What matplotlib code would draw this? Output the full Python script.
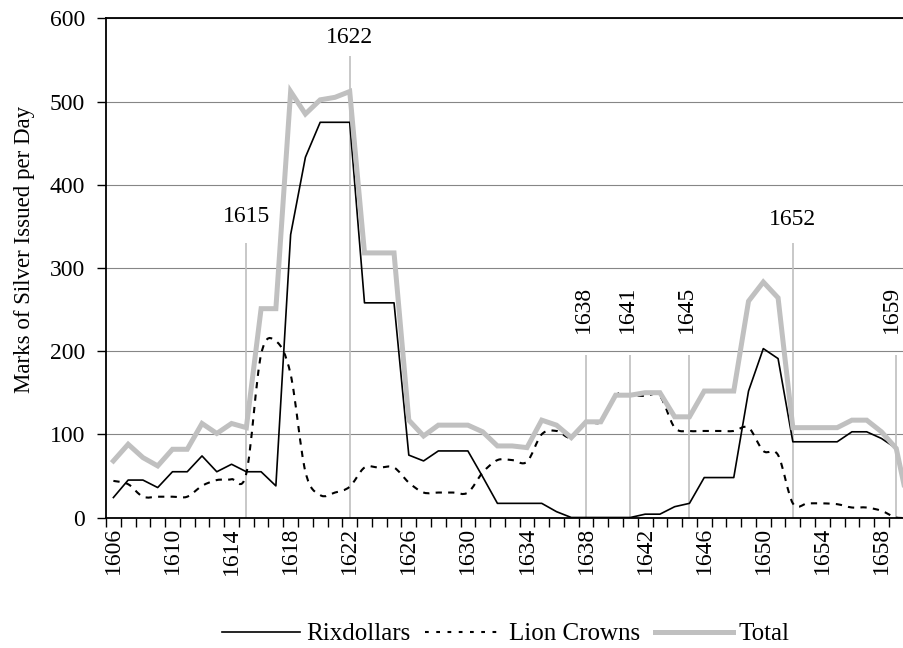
import matplotlib
matplotlib.use("Agg")
import matplotlib.pyplot as plt
import numpy as np
from matplotlib.path import Path
from matplotlib.patches import PathPatch
from matplotlib.lines import Line2D

plt.rcParams['font.family'] = ['Liberation Serif', 'DejaVu Serif']

# years on the category axis
years = list(range(1606, 1661))

rixdollars = [24, 45, 45, 36, 55, 55, 74, 55, 64, 55,
              55, 38, 340, 433, 475, 475, 475, 258, 258, 258,
              75, 68, 80, 80, 80, 49, 17, 17, 17, 17,
              7, 0, 0, 0, 0, 0, 4, 4, 13, 17,
              48, 48, 48, 152, 203, 191, 91, 91, 91, 91,
              103, 103, 95, 83, 0]

lion_crowns = [44, 40, 25, 25, 25, 25, 38, 45, 46, 53,
               196, 212, 172, 55, 27, 30, 37, 60, 60, 60,
               42, 30, 30, 30, 30, 54, 69, 69, 67, 100,
               104, 96, 115, 115, 147, 147, 146, 146, 108, 104,
               104, 104, 104, 108, 80, 75, 17, 17, 17, 16,
               12, 12, 8, 0, 0]

total = [68, 88, 72, 62, 82, 82, 113, 101, 113, 108,
         251, 251, 512, 485, 502, 505, 512, 318, 318, 318,
         117, 98, 111, 111, 111, 103, 86, 86, 84, 117,
         111, 96, 115, 115, 147, 147, 150, 150, 121, 121,
         152, 152, 152, 260, 283, 264, 108, 108, 108, 108,
         117, 117, 103, 83, 0]

# marked years: vertical line heights
marker_years = [1615, 1622, 1638, 1641, 1645, 1652, 1659]
marker_tops = [330, 555, 195, 195, 195, 330, 195]


def smooth_path(xs, ys):
    # Excel-like smoothed line (Catmull-Rom as cubic Bezier)
    pts = np.column_stack([xs, ys]).astype(float)
    n = len(pts)
    verts = [pts[0]]
    codes = [Path.MOVETO]
    for i in range(n - 1):
        p0 = pts[max(i - 1, 0)]
        p1 = pts[i]
        p2 = pts[i + 1]
        p3 = pts[min(i + 2, n - 1)]
        verts += [p1 + (p2 - p0) / 6, p2 - (p3 - p1) / 6, p2]
        codes += [Path.CURVE4] * 3
    return Path(verts, codes)


fig = plt.figure(figsize=(9.04, 6.48), dpi=100)
ax = fig.add_axes([106 / 904, (648 - 517.5) / 648, (918.4 - 106) / 904, (517.5 - 18.3) / 648])

x = np.arange(len(years))
ax.set_xlim(-0.5, len(years) - 0.5)
ax.set_ylim(0, 600)

ax.yaxis.grid(True, color='#868686', lw=0.8)
ax.set_axisbelow(True)

# vertical marker lines with year labels
for yr, top in zip(marker_years, marker_tops):
    xi = years.index(yr)
    ax.vlines(xi, 0, top, color='#bfbfbf', lw=1.2, zorder=1.5)
    if top > 300:
        off = 25 if top < 400 else 15
        if yr == 1652:
            off = 21
        ax.text(xi, top + off, str(yr), ha='center', va='baseline', fontsize=17)
    else:
        shift = 0.35 if yr == 1659 else 0.2
        ax.text(xi - shift, top + 27, str(yr), ha='center', va='bottom', rotation=90, fontsize=17)

ax.plot(x, rixdollars, color='black', lw=1.2, zorder=3)
ax.add_patch(PathPatch(smooth_path(x, lion_crowns), fill=False, edgecolor='black',
                       lw=1.5, linestyle=(0, (3, 3)), zorder=3))
ax.plot(x, total, color='#c0c0c0', lw=3.6, zorder=4, solid_joinstyle='miter')

ax.set_xticks(x[::4])
ax.set_xticklabels([str(y) for y in years[::4]], rotation=90)
ax.set_xticks(np.arange(-0.5, len(years)), minor=True)
ax.tick_params(axis='x', which='major', length=0, pad=7, labelsize=17)
ax.tick_params(axis='x', which='minor', length=6.5, width=1, direction='out')

ax.set_yticks(range(0, 601, 100))
ax.tick_params(axis='y', length=6.5, width=1, pad=8.5, labelsize=17)

for s in ax.spines.values():
    s.set_color('black')
    s.set_linewidth(1.3)

ax.set_ylabel('Marks of Silver Issued per Day', fontsize=16.5)
ax.yaxis.set_label_coords(-0.087, 0.536)

handles = [Line2D([], [], color='black', lw=1.2),
           Line2D([], [], color='black', lw=1.5, linestyle=(0, (1.8, 3.6))),
           Line2D([], [], color='#c0c0c0', lw=3.6)]
fig.legend(handles, ['Rixdollars', 'Lion Crowns', 'Total'], loc='center',
           bbox_to_anchor=(506 / 904, 1 - 634 / 648), ncol=3, frameon=False,
           fontsize=18, handlelength=3.1, handletextpad=0.25, columnspacing=0.6)

fig.savefig('out.png', dpi=100)
